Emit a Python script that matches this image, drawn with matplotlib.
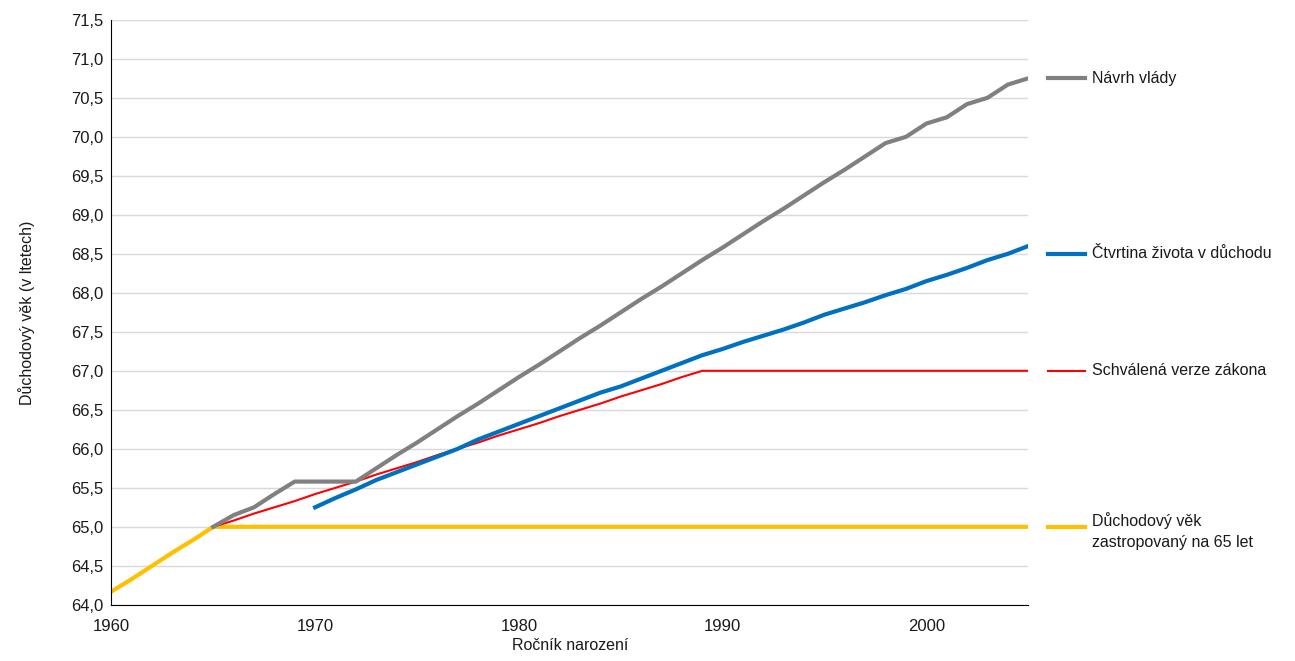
import matplotlib
matplotlib.use("Agg")
import matplotlib.pyplot as plt
from matplotlib.lines import Line2D

plt.rcParams['font.family'] = ['Liberation Sans', 'DejaVu Sans']

years = list(range(1960, 2006))
grey_years = list(range(1965, 2006))
grey = [65.0, 65.15, 65.25, 65.42, 65.58, 65.58, 65.58, 65.58, 65.75, 65.92, 66.08, 66.25, 66.42,
        66.58, 66.75, 66.92, 67.08, 67.25, 67.42, 67.58, 67.75, 67.92, 68.08, 68.25, 68.42, 68.58,
        68.75, 68.92, 69.08, 69.25, 69.42, 69.58, 69.75, 69.92, 70.0, 70.17, 70.25, 70.42, 70.5,
        70.67, 70.75]
blue_years = list(range(1970, 2006))
blue = [65.25, 65.37, 65.48, 65.6, 65.7, 65.8, 65.9, 66.0, 66.12, 66.22, 66.32, 66.42, 66.52,
        66.62, 66.72, 66.8, 66.9, 67.0, 67.1, 67.2, 67.28, 67.37, 67.45, 67.53, 67.62, 67.72,
        67.8, 67.88, 67.97, 68.05, 68.15, 68.23, 68.32, 68.42, 68.5, 68.6]
red_years = list(range(1965, 2006))
red = [65.0, 65.08, 65.17, 65.25, 65.33, 65.42, 65.5, 65.58, 65.67, 65.75, 65.83, 65.92, 66.0,
       66.08, 66.17, 66.25, 66.33, 66.42, 66.5, 66.58, 66.67, 66.75, 66.83, 66.92, 67.0] + [67.0] * 16
yellow = [64.17, 64.33, 64.5, 64.67, 64.83] + [65.0] * 41

labels = ["Návrh vlády", "Čtvrtina života v důchodu", "Schválená verze zákona",
          "Důchodový věk\nzastropovaný na 65 let"]
label_y = [70.75, 68.5, 67.0, 65.0]
colors = ["#808080", "#0070C0", "#FF0000", "#FFC000"]
widths = [3, 3, 1.5, 3]
txt = '#1a1a1a'

fig = plt.figure(figsize=(12.95, 6.61), dpi=100)
ax = fig.add_axes([0.086, 0.085, 0.708, 0.885])
ax.grid(axis='y', color='#D9D9D9', lw=1)
ax.set_axisbelow(True)
ax.plot(years, yellow, color=colors[3], lw=widths[3])
ax.plot(red_years, red, color=colors[2], lw=widths[2])
ax.plot(blue_years, blue, color=colors[1], lw=widths[1])
ax.plot(grey_years, grey, color=colors[0], lw=widths[0])

ax.set_xlim(1960, 2005)
ax.set_ylim(64.0, 71.5)
ax.set_xticks([1960, 1970, 1980, 1990, 2000])
yt = [64 + 0.5 * i for i in range(16)]
ax.set_yticks(yt)
ax.set_yticklabels([f"{v:.1f}".replace('.', ',') for v in yt])
for s in ['top', 'right']:
    ax.spines[s].set_visible(False)
for s in ['left', 'bottom']:
    ax.spines[s].set_color('black')
ax.tick_params(colors=txt, labelsize=12, length=0, pad=6)
ax.tick_params(axis='x', pad=10)
ax.set_xlabel("Ročník narození", fontsize=11.5, color=txt, labelpad=3)
ax.set_ylabel("Důchodový věk (v ltetech)", fontsize=11.5, color=txt, labelpad=26)

for lab, yv, c, w in zip(labels, label_y, colors, widths):
    yy = ax.transData.transform((2005, yv))[1]
    yf = fig.transFigure.inverted().transform((0, yy))[1]
    fig.add_artist(Line2D([0.809, 0.838], [yf, yf], color=c, lw=w, transform=fig.transFigure))
    if "\n" in lab:
        fig.text(0.843, yf + 0.022, lab, fontsize=11.5, color=txt, va='top', ha='left',
                 linespacing=1.45)
    else:
        fig.text(0.843, yf, lab, fontsize=11.5, color=txt, va='center', ha='left')

fig.savefig("out.png", dpi=100)
